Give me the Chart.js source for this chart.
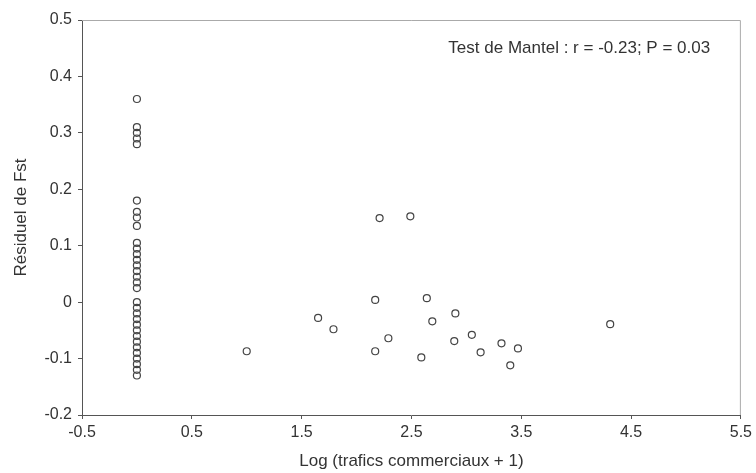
<!DOCTYPE html>
<html>
<head>
<meta charset="utf-8">
<script src="https://cdn.jsdelivr.net/npm/chart.js@4/dist/chart.umd.min.js"></script>
<style>
html,body{margin:0;padding:0;background:#fff;}
#wrap{width:756px;height:473px;}
</style>
</head>
<body>
<div id="wrap"><canvas id="c" width="756" height="473"></canvas></div>
<script>
// Points at Log(trafic+1) = 0
const yZero = [0.36,0.31,0.30,0.29,0.28,0.18,0.16,0.15,0.135,
  0.105,0.095,0.085,0.075,0.065,0.055,0.045,0.035,0.025,
  0.0,-0.01,-0.02,-0.03,-0.04,-0.05,-0.06,-0.07,-0.08,-0.09,-0.10,-0.11,-0.12,-0.13];
// Other ports
const xOther = [1.0,1.65,1.79,2.17,2.21,2.17,2.29,2.49,2.59,2.64,2.69,2.9,2.89,3.05,3.13,3.32,3.4,3.47,4.31];
const yOther = [-0.087,-0.028,-0.048,0.004,0.149,-0.087,-0.064,0.152,-0.098,0.007,-0.034,-0.02,-0.069,-0.058,-0.089,-0.073,-0.112,-0.082,-0.039];
const xTicks = [-0.5,0.5,1.5,2.5,3.5,4.5,5.5];
const yTicks = [-0.2,-0.1,0,0.1,0.2,0.3,0.4,0.5];
const annotationText = 'Test de Mantel : r = -0.23; P = 0.03';

const pts = [];
yZero.forEach(y=>pts.push({x:0,y:y}));
xOther.forEach((x,i)=>pts.push({x:x,y:yOther[i]}));

const FAM = '"Liberation Sans", Arial, sans-serif';
const annot = {
  id:'annot',
  afterDraw(chart){
    const {ctx, scales:{x,y}, chartArea:a} = chart;
    ctx.save();
    ctx.font = '17px ' + FAM;
    ctx.fillStyle = '#333';
    ctx.textAlign = 'right';
    ctx.textBaseline = 'middle';
    ctx.fillText(annotationText, x.getPixelForValue(5.22), y.getPixelForValue(0.45));
    // light top / right frame
    ctx.strokeStyle = '#aaa';
    ctx.lineWidth = 1;
    ctx.beginPath();
    ctx.moveTo(a.left, a.top+0.5); ctx.lineTo(a.right-0.5, a.top+0.5); ctx.lineTo(a.right-0.5, a.bottom);
    ctx.stroke();
    ctx.restore();
  }
};

const tickFont = {family:FAM, size:16};
const titleFont = {family:FAM, size:17};
new Chart(document.getElementById('c'), {
  type:'scatter',
  data:{datasets:[{
    data:pts,
    pointStyle:'circle',
    pointRadius:3.5,
    pointBorderWidth:1.2,
    borderColor:'#444',
    backgroundColor:'rgba(255,255,255,0)'
  }]},
  options:{
    responsive:false,
    animation:false,
    layout:{padding:{top:20,right:14,left:0,bottom:0}},
    plugins:{legend:{display:false},tooltip:{enabled:false}},
    scales:{
      x:{
        type:'linear', min:-0.5, max:5.5,
        afterBuildTicks(s){ s.ticks = xTicks.map(v=>({value:v})); },
        afterFit(s){ s.height = 58; },
        ticks:{font:tickFont, color:'#333', padding:4, maxRotation:0,
          callback:v=>v.toFixed(1)},
        grid:{drawOnChartArea:false, tickLength:4, color:'#555'},
        border:{color:'#555'},
        title:{display:true, text:'Log (trafics commerciaux + 1)', font:titleFont, color:'#333', padding:{top:0,bottom:1}}
      },
      y:{
        type:'linear', min:-0.2, max:0.5,
        afterBuildTicks(s){ s.ticks = yTicks.map(v=>({value:v})); },
        afterFit(s){ s.width = 82; },
        ticks:{font:tickFont, color:'#333', padding:6,
          callback:v=>String(Math.round(v*10)/10)},
        grid:{drawOnChartArea:false, tickLength:4, color:'#555'},
        border:{color:'#555'},
        title:{display:true, text:'Résiduel de Fst', font:titleFont, color:'#333', padding:{top:11,bottom:0}}
      }
    }
  },
  plugins:[annot]
});
</script>
</body>
</html>
